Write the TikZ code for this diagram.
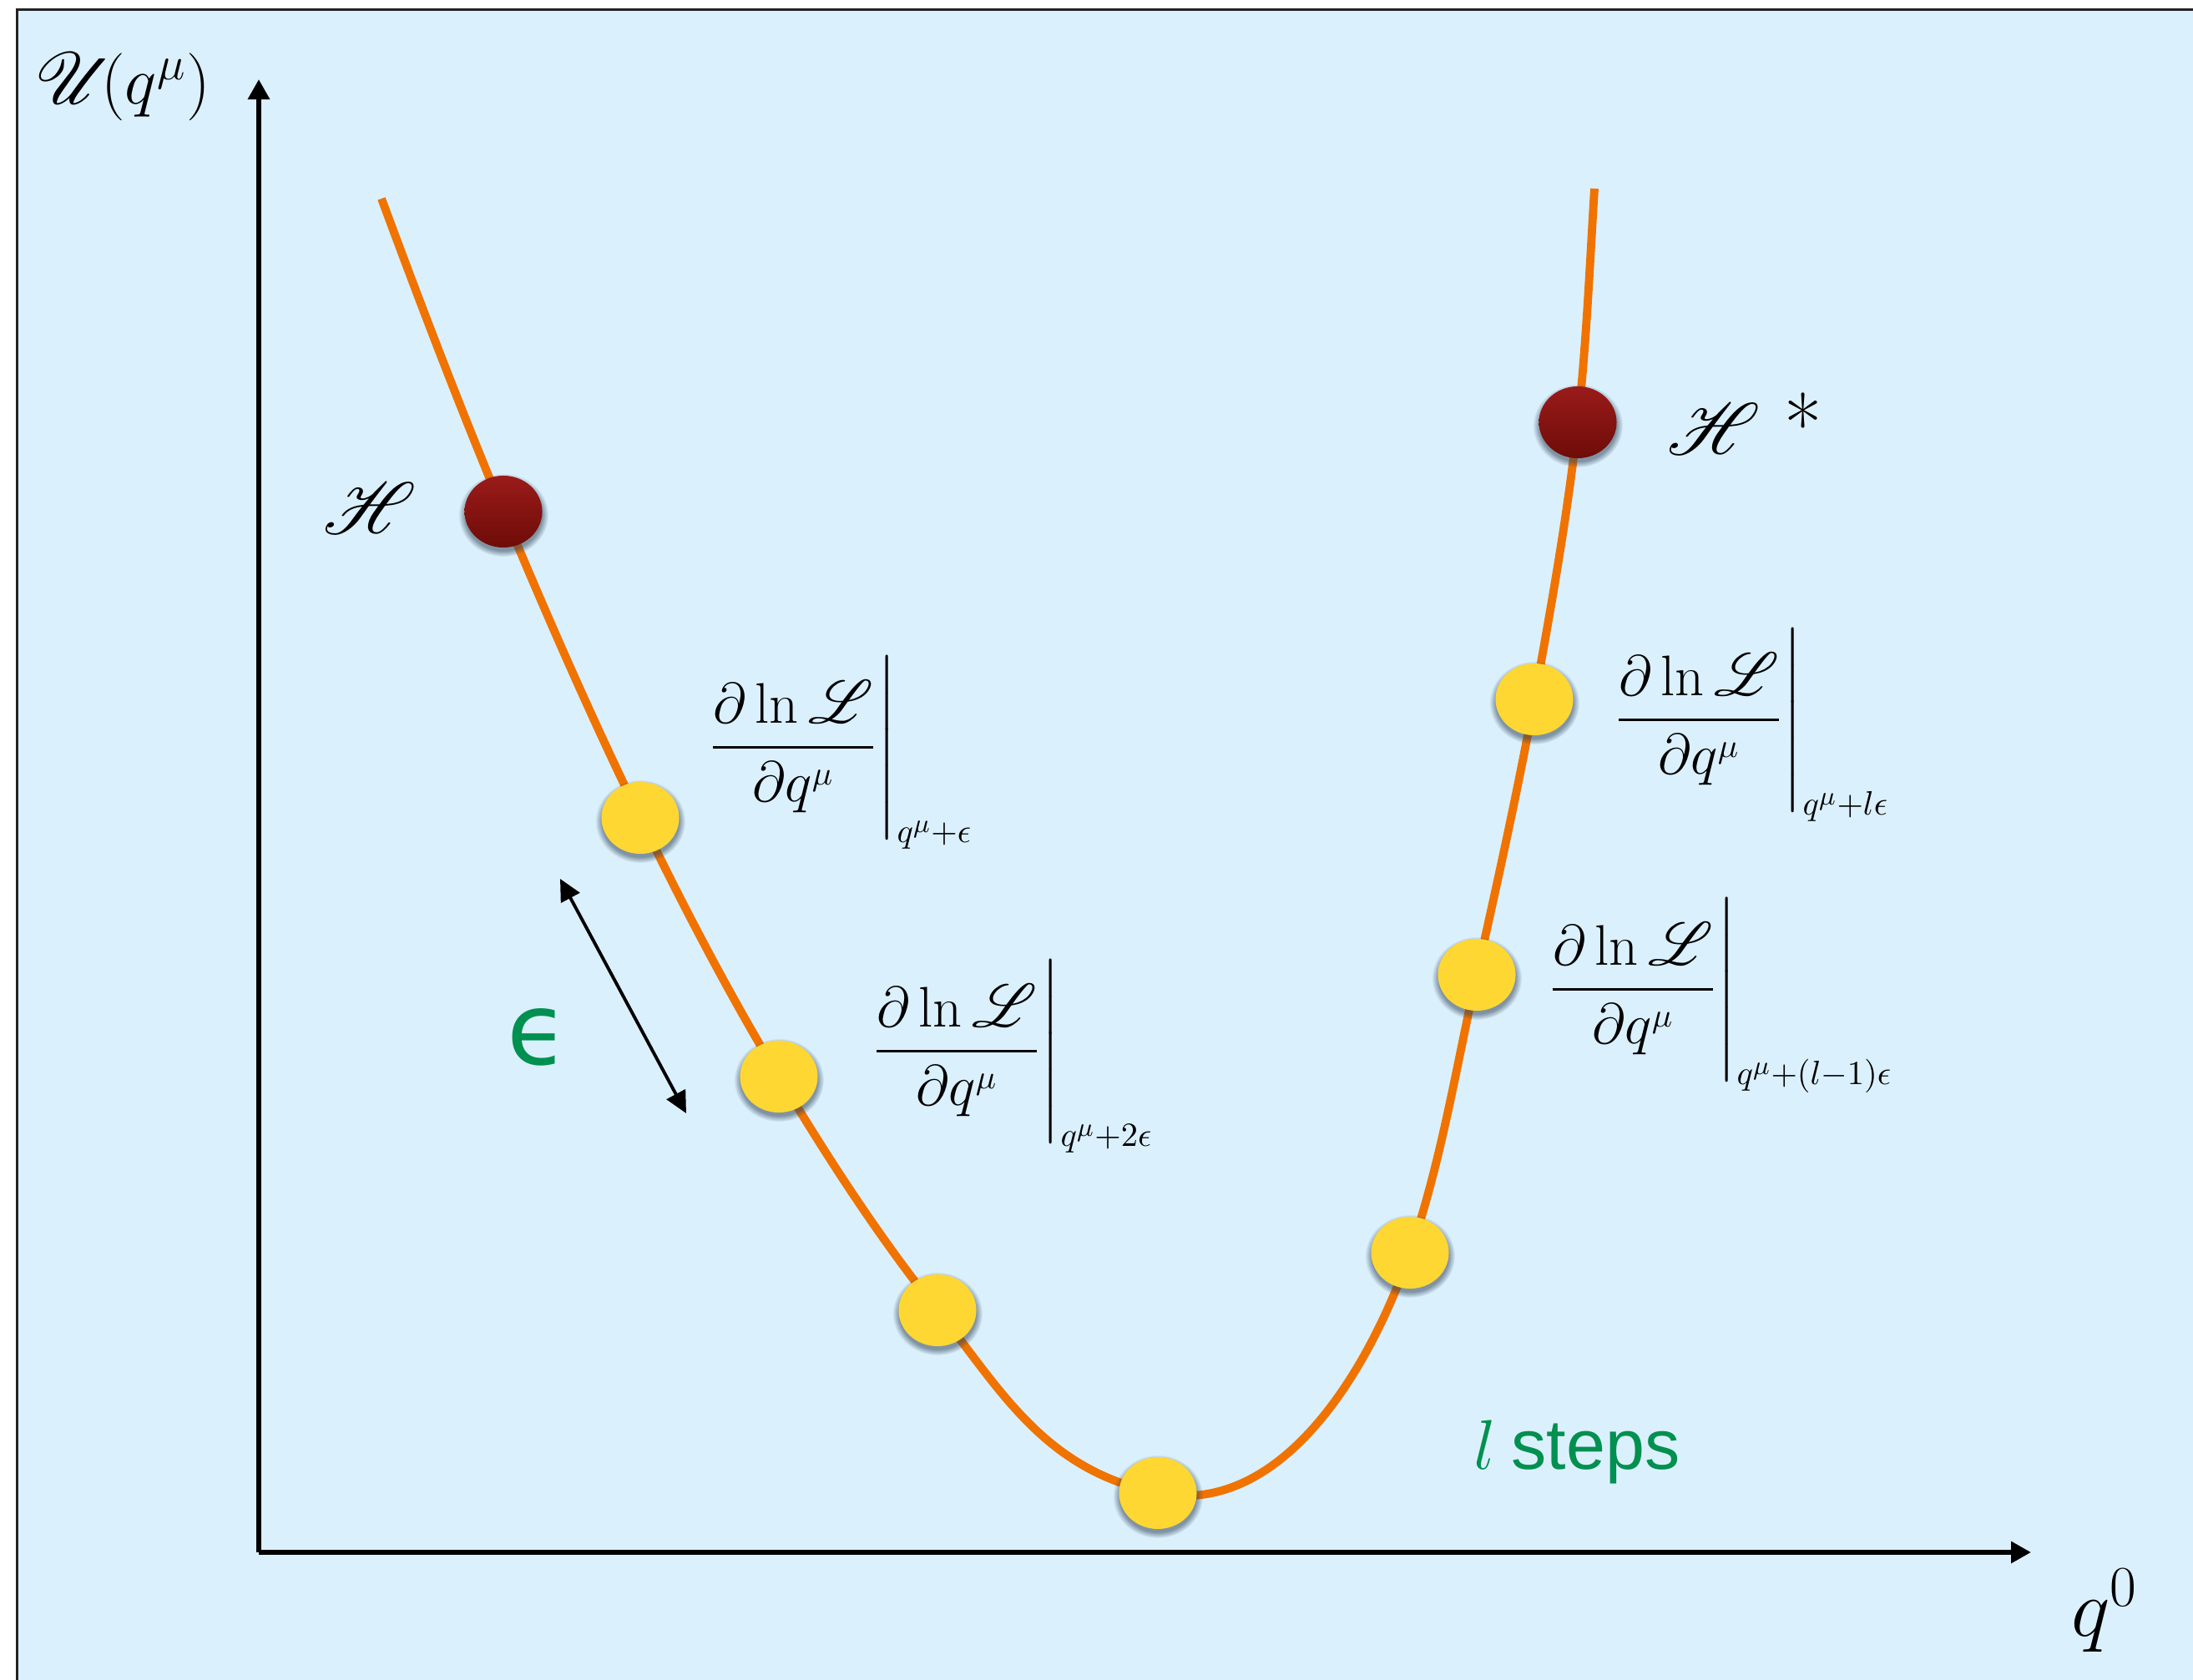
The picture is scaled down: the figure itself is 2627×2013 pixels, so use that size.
\RequirePackage{fix-cm}
\documentclass[tikz,border=0pt]{standalone}
\usepackage{amsmath}
\usepackage{mathrsfs}
\usepackage{fontspec}
\newfontfamily\labelsf{Liberation Sans}
\newfontfamily\epsfont{DejaVu Sans}
\DeclareMathSizes{19.5}{19.5}{11.5}{9}
\usetikzlibrary{arrows.meta}
\usetikzlibrary{shapes.geometric}
\usetikzlibrary{shadows}
\definecolor{pl-bg}{HTML}{DBF0FD}
\definecolor{pl-frame}{HTML}{222222}
\definecolor{pl-curve}{HTML}{F07300}
\definecolor{pl-step}{HTML}{FFD733}
\definecolor{pl-redtop}{HTML}{9A1B1A}
\definecolor{pl-redbot}{HTML}{6E0C08}
\definecolor{pl-green}{HTML}{00904F}
\definecolor{pl-shadow}{HTML}{34475A}
% gradient evaluated at a point
\newcommand{\gradat}[1]{$\displaystyle\left.\frac{\partial\ln\mathscr{L}}{\partial q^{\mu}}\rule[-1.375em]{0pt}{3.25em}\right|_{#1}$}

\begin{document}
\begin{tikzpicture}[x=0.01cm, y=-0.01cm,
    axis/.style={line width=1.7pt, -{Triangle[length=0.24cm, width=0.25cm]}},
    curve/.style={pl-curve, line width=2.8pt},
    ballshadow/.style={circular drop shadow={shadow scale=1.16, shadow xshift=0pt, shadow yshift=-1pt, fill=pl-shadow, opacity=0.55}},
    stepball/.style={ellipse, minimum width=0.93cm, minimum height=0.86cm, inner sep=0pt, fill=pl-step, ballshadow},
    endball/.style={ellipse, minimum width=0.93cm, minimum height=0.86cm, inner sep=0pt, top color=pl-redtop, bottom color=pl-redbot, ballshadow},
    grad/.style={anchor=base west, inner sep=0pt, font=\fontsize{19.5}{23.4}\selectfont},
  ]
    % Background and frame
    \useasboundingbox (0,0) rectangle (2627,2013);
    \fill[pl-bg] (20,12) rectangle (2627,2013);
    \draw[pl-frame, line width=0.7pt] (20.5,2013) -- (20.5,11.5) -- (2627,11.5);

    % Axes
    \coordinate (O) at (310,1860);
    \coordinate (ytip) at (310,95);
    \coordinate (xtip) at (2433,1860);
    \draw[axis] (O) -- (ytip);
    \draw[axis] (O) -- (xtip);
    \node[anchor=base, inner sep=0pt, font=\fontsize{23}{27}\selectfont] (ylab) at (147,125) {$\mathscr{U}\!(q^{\mu})$};
    \node[anchor=base, inner sep=0pt, font=\fontsize{28}{33}\selectfont] (xlab) at (2521,1960) {$q^{0}$};

    % Points on the potential
    \foreach \n/\x/\y in {c0/457/238, h/603/613, s1/767/980, s2/933/1290, s3/1123/1570, s4/1387/1789, s5/1689/1501, s6/1769/1168, s7/1838/838, hs/1890/506, c9/1910/226}
        \coordinate (p-\n) at (\x,\y);
    \draw[curve] (p-c0) .. controls (503.5,363.8) and (551.4,489.2) .. (p-h)
        .. controls (654.6,736.7) and (708.3,859.5) .. (p-s1)
        .. controls (818.3,1085.4) and (872.5,1189.6) .. (p-s2)
        .. controls (991.2,1386.7) and (1052.5,1481.9) .. (p-s3)
        .. controls (1198,1663.7) and (1249.7,1761.6) .. (p-s4)
        .. controls (1534.2,1818.4) and (1640.1,1642.8) .. (p-s5)
        .. controls (1726.2,1393.1) and (1744.2,1279.5) .. (p-s6)
        .. controls (1793.4,1058.3) and (1817.9,948.6) .. (p-s7)
        .. controls (1858,727.8) and (1877.7,617.3) .. (p-hs)
        .. controls (1900.3,413) and (1904.2,319.4) .. (p-c9);

    % Leapfrog steps
    \node[endball] (hstart) at (p-h) {};
    \node[endball] (hend) at (p-hs) {};
    \foreach \i in {1,...,7} {
        \node[stepball] (step\i) at (p-s\i) {};
    }

    % Labels
    \node[anchor=base, inner sep=0pt, font=\fontsize{24}{28}\selectfont] (hlab) at (443,640) {$\mathscr{H}$};
    \node[anchor=base, inner sep=0pt, font=\fontsize{28}{33}\selectfont] (hendlab) at (2090,545) {$\mathscr{H}$ *};
    \node[grad] (grad1) at (845,913) {\gradat{q^{\mu}+\epsilon}};
    \node[grad] (grad2) at (1041,1277) {\gradat{q^{\mu}+2\epsilon}};
    \node[grad] (grad3) at (1930,880) {\gradat{q^{\mu}+l\epsilon}};
    \node[grad] (grad4) at (1851,1203) {\gradat{q^{\mu}+(l-1)\epsilon}};

    % Step size
    \coordinate (epsA) at (671,1053);
    \coordinate (epsB) at (822,1334);
    \draw[{Triangle[length=0.26cm, width=0.25cm]}-{Triangle[length=0.26cm, width=0.25cm]}, line width=1.1pt] (epsA) -- (epsB);
    \node[text=pl-green, inner sep=0pt, font=\epsfont\fontsize{34}{40}\selectfont] (epslab) at (644,1243) {ϵ};
    \node[anchor=base west, inner sep=0pt, text=pl-green, font=\fontsize{24}{29}\selectfont] (steplab) at (1765,1760) {$l$\hspace{0.22em}{\labelsf steps}};
\end{tikzpicture}
\end{document}
